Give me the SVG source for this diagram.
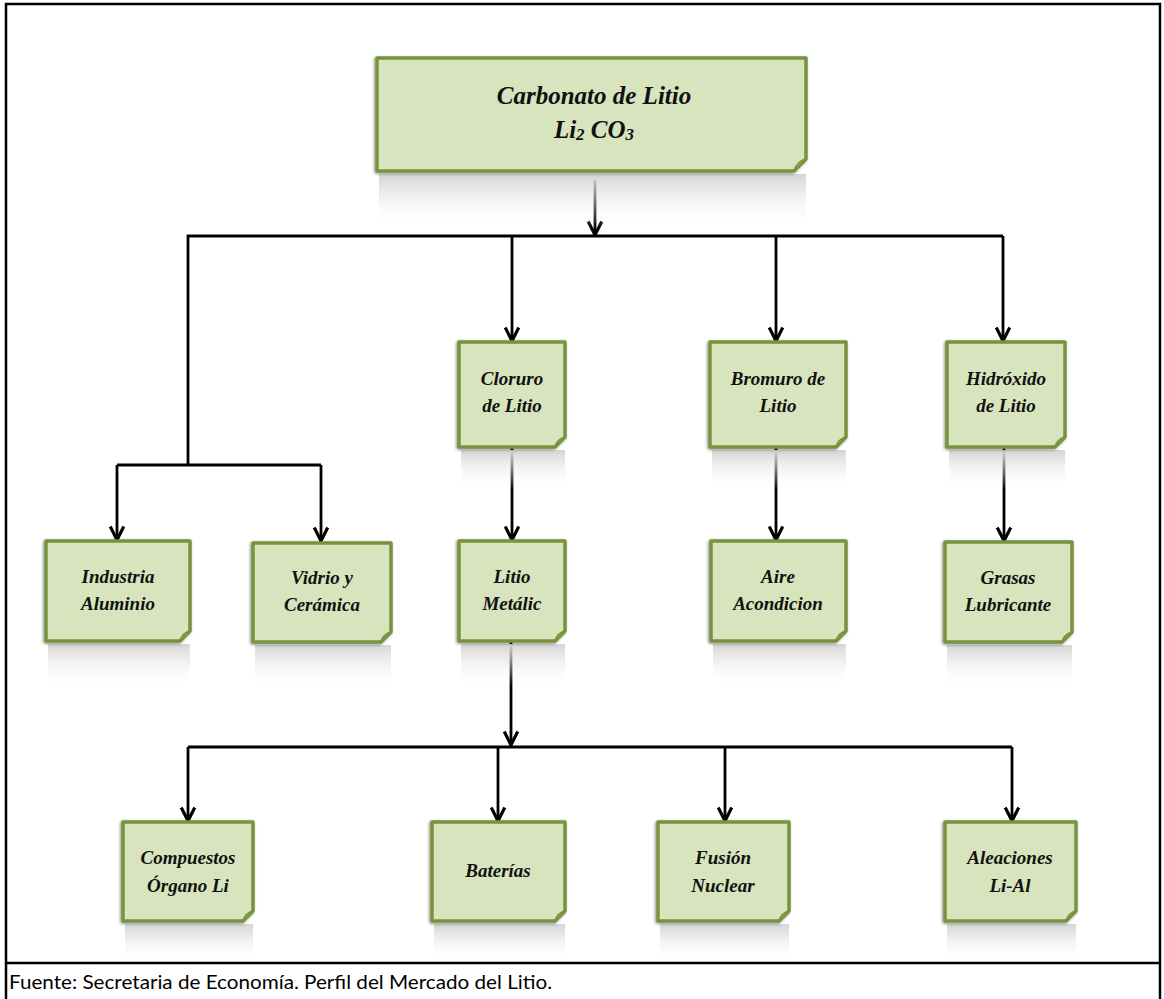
<svg xmlns="http://www.w3.org/2000/svg" width="1164" height="999" viewBox="0 0 1164 999">
<style>
.box{fill:#d7e4bd;stroke:#77933c;stroke-width:3.5;stroke-linejoin:round}
.fold{fill:#8fae4e;stroke:#77933c;stroke-width:1.5;stroke-linejoin:round}
.refl{fill:url(#rg)}
.t{font-family:"Liberation Serif","DejaVu Serif",serif;font-style:italic;font-weight:bold;font-size:19px;fill:#111;text-anchor:middle}
.tb{font-size:25px}
.ln{fill:none;stroke:#000;stroke-width:2.8}
.ar{fill:none;stroke:#000;stroke-width:2.8;marker-end:url(#ah)}
.frame{fill:none;stroke:#000;stroke-width:2.5}
.foot{font-family:"Lato","Open Sans",sans-serif;font-size:20px;fill:#000}
</style>
<defs>
<linearGradient id="rg" x1="0" y1="0" x2="0" y2="1">
<stop offset="0" stop-color="#d4d4d4"/>
<stop offset="1" stop-color="#ffffff" stop-opacity="0"/>
</linearGradient>
<filter id="sh" x="-10%" y="-10%" width="120%" height="130%">
<feGaussianBlur in="SourceAlpha" stdDeviation="1.5"/>
<feOffset dx="-1" dy="1" result="b"/>
<feComponentTransfer><feFuncA type="linear" slope="0.45"/></feComponentTransfer>
<feMerge><feMergeNode/><feMergeNode in="SourceGraphic"/></feMerge>
</filter>
<marker id="ah" markerUnits="userSpaceOnUse" markerWidth="18" markerHeight="18" viewBox="-1 -1 16 16" refX="13" refY="7" orient="auto">
<path d="M1,1 L13,7 L1,13" fill="none" stroke="#000" stroke-width="2.8" stroke-linejoin="miter"/>
</marker>
</defs>
<rect x="0" y="0" width="1164" height="999" fill="#fff"/>
<g id="frame">
<rect class="frame" x="6" y="4" width="1154" height="1000"/>
<line class="frame" x1="6" y1="963" x2="1160" y2="963"/>
<text class="foot" x="9" y="989" textLength="543" lengthAdjust="spacingAndGlyphs">Fuente: Secretaria de Economía. Perfil del Mercado del Litio.</text>
</g>
<g id="connectors">
<line class="ar" x1="595" y1="180" x2="595" y2="235"/>
<polyline class="ln" points="188,465 188,236 1003,236"/>
<line class="ar" x1="512" y1="236" x2="512" y2="341"/>
<line class="ar" x1="776" y1="236" x2="776" y2="341"/>
<polyline class="ar" points="1003,236 1003,341"/>
<line class="ln" x1="117" y1="465" x2="321" y2="465"/>
<line class="ar" x1="117" y1="465" x2="117" y2="540"/>
<line class="ar" x1="321" y1="465" x2="321" y2="541"/>
<line class="ar" x1="512" y1="447" x2="512" y2="540"/>
<line class="ar" x1="776" y1="447" x2="776" y2="540"/>
<line class="ar" x1="1004" y1="447" x2="1004" y2="541"/>
<line class="ar" x1="511" y1="641" x2="511" y2="745"/>
<line class="ln" x1="188" y1="747" x2="1012" y2="747"/>
<line class="ar" x1="188" y1="747" x2="188" y2="821"/>
<line class="ar" x1="498" y1="747" x2="498" y2="821"/>
<line class="ar" x1="725" y1="747" x2="725" y2="821"/>
<line class="ar" x1="1012" y1="747" x2="1012" y2="821"/>
</g>
<g id="n-carbonato">
<rect class="refl" x="379" y="174" width="427" height="55"/>
<path class="box" filter="url(#sh)" d="M377,58 H806 V159 L794,171 H377 Z"/>
<path class="fold" d="M806,159 Q797,161 794,171 Z"/>
<text class="t tb" x="594" y="104">Carbonato de Litio</text>
<text class="t tb" x="594" y="138">Li<tspan font-size="17" dy="2">2</tspan><tspan dy="-2"> CO</tspan><tspan font-size="17" dy="2">3</tspan></text>
</g>
<g id="n-cloruro">
<rect class="refl" x="461" y="450" width="104" height="40"/>
<path class="box" filter="url(#sh)" d="M459,342 H565 V437 L555,447 H459 Z"/>
<path class="fold" d="M565,437 Q557,439 555,447 Z"/>
<text class="t" x="512" y="385">Cloruro</text>
<text class="t" x="512" y="412">de Litio</text>
</g>
<g id="n-bromuro">
<rect class="refl" x="712" y="450" width="134" height="40"/>
<path class="box" filter="url(#sh)" d="M710,342 H846 V437 L836,447 H710 Z"/>
<path class="fold" d="M846,437 Q838,439 836,447 Z"/>
<text class="t" x="778" y="385">Bromuro de</text>
<text class="t" x="778" y="412">Litio</text>
</g>
<g id="n-hidroxido">
<rect class="refl" x="949" y="450" width="116" height="40"/>
<path class="box" filter="url(#sh)" d="M947,342 H1065 V437 L1055,447 H947 Z"/>
<path class="fold" d="M1065,437 Q1057,439 1055,447 Z"/>
<text class="t" x="1006" y="385">Hidróxido</text>
<text class="t" x="1006" y="412">de Litio</text>
</g>
<g id="n-industria">
<rect class="refl" x="48" y="644" width="142" height="42"/>
<path class="box" filter="url(#sh)" d="M46,541 H190 V631 L180,641 H46 Z"/>
<path class="fold" d="M190,631 Q182,633 180,641 Z"/>
<text class="t" x="118" y="583">Industria</text>
<text class="t" x="118" y="610">Aluminio</text>
</g>
<g id="n-vidrio">
<rect class="refl" x="255" y="645" width="136" height="42"/>
<path class="box" filter="url(#sh)" d="M253,543 H391 V632 L381,642 H253 Z"/>
<path class="fold" d="M391,632 Q383,634 381,642 Z"/>
<text class="t" x="322" y="584">Vidrio y</text>
<text class="t" x="322" y="611">Cerámica</text>
</g>
<g id="n-litio-metalic">
<rect class="refl" x="461" y="644" width="104" height="42"/>
<path class="box" filter="url(#sh)" d="M459,541 H565 V631 L555,641 H459 Z"/>
<path class="fold" d="M565,631 Q557,633 555,641 Z"/>
<text class="t" x="512" y="583">Litio</text>
<text class="t" x="512" y="610">Metálic</text>
</g>
<g id="n-aire">
<rect class="refl" x="713" y="644" width="133" height="42"/>
<path class="box" filter="url(#sh)" d="M711,541 H846 V631 L836,641 H711 Z"/>
<path class="fold" d="M846,631 Q838,633 836,641 Z"/>
<text class="t" x="778" y="583">Aire</text>
<text class="t" x="778" y="610">Acondicion</text>
</g>
<g id="n-grasas">
<rect class="refl" x="947" y="645" width="125" height="42"/>
<path class="box" filter="url(#sh)" d="M945,542 H1072 V632 L1062,642 H945 Z"/>
<path class="fold" d="M1072,632 Q1064,634 1062,642 Z"/>
<text class="t" x="1008" y="584">Grasas</text>
<text class="t" x="1008" y="611">Lubricante</text>
</g>
<g id="n-compuestos">
<rect class="refl" x="125" y="924" width="128" height="38"/>
<path class="box" filter="url(#sh)" d="M123,822 H253 V911 L243,921 H123 Z"/>
<path class="fold" d="M253,911 Q245,913 243,921 Z"/>
<text class="t" x="188" y="864">Compuestos</text>
<text class="t" x="188" y="892">Órgano Li</text>
</g>
<g id="n-baterias">
<rect class="refl" x="434" y="924" width="131" height="38"/>
<path class="box" filter="url(#sh)" d="M432,822 H565 V911 L555,921 H432 Z"/>
<path class="fold" d="M565,911 Q557,913 555,921 Z"/>
<text class="t" x="498" y="877">Baterías</text>
</g>
<g id="n-fusion">
<rect class="refl" x="660" y="924" width="129" height="38"/>
<path class="box" filter="url(#sh)" d="M658,822 H789 V911 L779,921 H658 Z"/>
<path class="fold" d="M789,911 Q781,913 779,921 Z"/>
<text class="t" x="723" y="864">Fusión</text>
<text class="t" x="723" y="892">Nuclear</text>
</g>
<g id="n-aleaciones">
<rect class="refl" x="947" y="924" width="129" height="38"/>
<path class="box" filter="url(#sh)" d="M945,822 H1076 V911 L1066,921 H945 Z"/>
<path class="fold" d="M1076,911 Q1068,913 1066,921 Z"/>
<text class="t" x="1010" y="864">Aleaciones</text>
<text class="t" x="1010" y="892">Li-Al</text>
</g>
</svg>
